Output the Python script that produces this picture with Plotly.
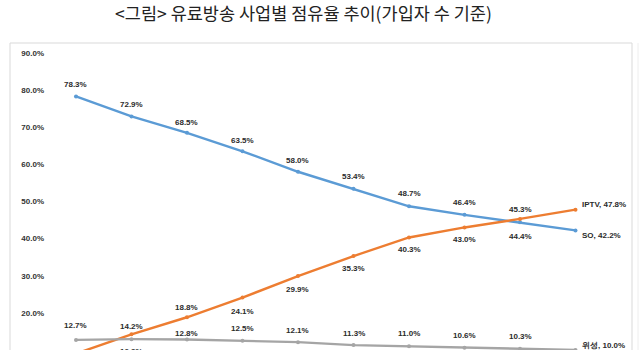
import plotly.graph_objects as go

# Share of paid-TV subscribers by platform (%), ten consecutive periods
periods = list(range(10))
so_share = [78.3, 72.9, 68.5, 63.5, 58.0, 53.4, 48.7, 46.4, 44.4, 42.2]
iptv_share = [9.0, 14.2, 18.8, 24.1, 29.9, 35.3, 40.3, 43.0, 45.3, 47.8]
sat_share = [12.7, 12.9, 12.8, 12.5, 12.1, 11.3, 11.0, 10.6, 10.3, 10.0]
series_names = ["SO", "IPTV", "위성"]
tick_values = [10, 20, 30, 40, 50, 60, 70, 80, 90]
tick_labels = ["10.0%", "20.0%", "30.0%", "40.0%", "50.0%", "60.0%", "70.0%", "80.0%", "90.0%"]

title_text = "<그림> 유료방송 사업별 점유율 추이(가입자 수 기준)"

# Styling
colors = ["#5B9BD5", "#ED7D31", "#A5A5A5"]
narrow = "Liberation Sans Narrow, Liberation Sans, Arial"
label_font = dict(family=narrow, size=8, color="#2B2B2B", weight="bold")

# Vertical pixel offset of each data label relative to its point (+ = above)
label_shift = [
    [12, 12, 10.5, 11, 11.5, 12, 13, 12, -14, -5],
    [-14, 8, 10, -14, -13, -12, -12, -12.5, 9, 5],
    [14, -12, 6, 12, 11.5, 12, 12.5, 12, 12, 4],
]

fig = go.Figure()
all_series = [so_share, iptv_share, sat_share]
for name, vals, col in zip(series_names, all_series, colors):
    fig.add_trace(go.Scatter(
        x=periods, y=vals, mode="lines+markers", name=name,
        line=dict(color=col, width=2.4),
        marker=dict(color=col, size=4),
        hoverinfo="skip",
    ))

annotations = []
last = len(periods) - 1
for si, (name, vals) in enumerate(zip(series_names, all_series)):
    for i, v in enumerate(vals):
        if i == last:
            annotations.append(dict(
                x=periods[i], y=v, xref="x", yref="y",
                text=f"{name}, {v:.1f}%", showarrow=False,
                xanchor="left", yanchor="middle",
                xshift=4, yshift=label_shift[si][i],
                font=label_font,
            ))
        else:
            annotations.append(dict(
                x=periods[i], y=v, xref="x", yref="y",
                text=f"{v:.1f}%", showarrow=False,
                xanchor="center", yanchor="middle",
                yshift=label_shift[si][i],
                font=label_font,
            ))

W, H = 640, 350
fig.update_layout(
    width=W, height=H,
    margin=dict(l=0, r=0, t=0, b=0),
    paper_bgcolor="white",
    plot_bgcolor="rgba(0,0,0,0)",
    showlegend=False,
    title=dict(
        text=title_text, x=303.5 / W, xanchor="center",
        y=1 - 14 / H, yanchor="middle",
        font=dict(family="Noto Sans CJK KR", size=17.5, color="#222222"),
    ),
    xaxis=dict(
        range=[-1.369, 10.162], visible=False, domain=[0, 1],
    ),
    yaxis=dict(
        range=[9.98, 104.28], anchor="free", position=44 / W,
        tickvals=tick_values, ticktext=tick_labels,
        showgrid=False, zeroline=False, showline=False, ticks="",
        tickfont=dict(family=narrow, size=8, color="#333333", weight="bold"),
    ),
    annotations=annotations,
    shapes=[
        dict(type="rect", xref="paper", yref="paper",
             x0=10 / W, x1=632 / W, y0=-0.2, y1=1 - 43 / H,
             line=dict(color="#D9D9D9", width=1), fillcolor="rgba(0,0,0,0)",
             layer="below"),
        dict(type="line", xref="paper", yref="paper",
             x0=638 / W, x1=638 / W, y0=-0.2, y1=1 - 43 / H,
             line=dict(color="#EEEEEE", width=1), layer="below"),
    ],
)

fig.write_html("out.html")
